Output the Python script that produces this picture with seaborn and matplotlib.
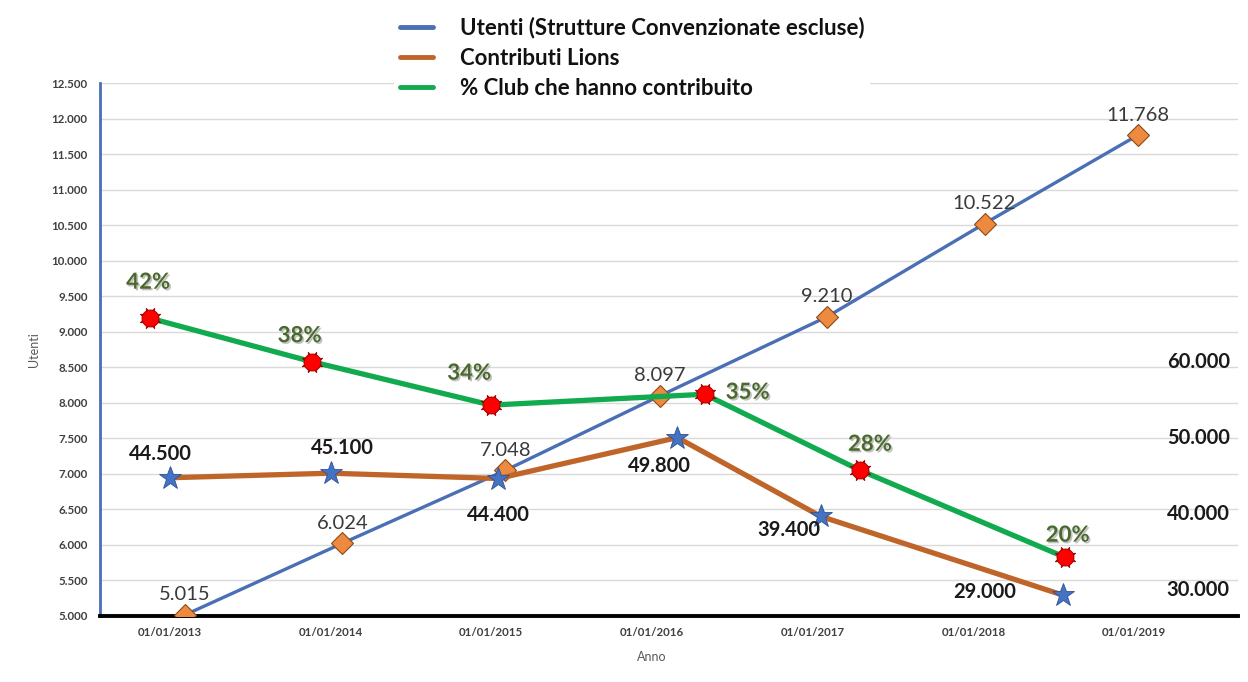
import matplotlib
matplotlib.use("Agg")
import matplotlib.pyplot as plt
import matplotlib.patheffects as pe
import seaborn as sns
import pandas as pd
from matplotlib.lines import Line2D
from matplotlib.ticker import FuncFormatter, MultipleLocator
import matplotlib.dates as mdates

# ---------------- data ----------------
utenti_dates = ["2013-02-04", "2014-01-28", "2015-02-02", "2016-01-19",
                "2017-02-02", "2018-01-26", "2019-01-10"]
utenti = [5015, 6024, 7048, 8097, 9210, 10522, 11768]

contrib_dates = ["2013-01-01", "2014-01-01", "2015-01-17", "2016-02-28",
                 "2017-01-19", "2018-07-24"]
contributi = [44500, 45100, 44400, 49800, 39400, 29000]

club_dates = ["2012-11-17", "2013-11-19", "2015-01-01", "2016-04-30",
              "2017-04-18", "2018-07-27"]
club_pct = [42, 38, 34, 35, 28, 20]

x_ticks = ["2013-01-01", "2014-01-01", "2015-01-01", "2016-01-01",
           "2017-01-01", "2018-01-01", "2019-01-01"]
right_ticks = [30000, 40000, 50000, 60000]

legend_labels = ["Utenti (Strutture Convenzionate escluse)",
                 "Contributi Lions",
                 "% Club che hanno contribuito"]

# ---------------- style ----------------
sns.set_theme(style="white")
plt.rcParams["font.family"] = ["Lato", "DejaVu Sans"]

BLUE = "#4a6fb5"
ORANGE_LINE = "#c0652a"
ORANGE_MK = "#ed8a3f"
GREEN = "#12aa4f"
RED = "#ff0000"
STAR_BLUE = "#4472c4"

def thousands(v, _=None):
    return f"{v:,.0f}".replace(",", ".")

W, H = 1248, 682
fig = plt.figure(figsize=(W / 100, H / 100), dpi=100)
ax = fig.add_axes([100 / W, 1 - 616 / H, 1138 / W, 533 / H])

df_u = pd.DataFrame({"data": pd.to_datetime(utenti_dates), "v": utenti})
df_c = pd.DataFrame({"data": pd.to_datetime(contrib_dates), "v": contributi})
df_g = pd.DataFrame({"data": pd.to_datetime(club_dates), "v": club_pct})

# blue: utenti (left axis)
sns.lineplot(data=df_u, x="data", y="v", ax=ax, color=BLUE, lw=2.4,
             marker="D", markersize=11, markerfacecolor=ORANGE_MK,
             markeredgecolor="#8a4a1a", markeredgewidth=0.8, zorder=3)

# orange: contributi (secondary)
ax2 = ax.twinx()
sns.lineplot(data=df_c, x="data", y="v", ax=ax2, color=ORANGE_LINE, lw=3.8,
             marker="*", markersize=17, markerfacecolor=STAR_BLUE,
             markeredgecolor="#2f528f", markeredgewidth=0.6, zorder=3)

# green: % club (hidden third scale)
ax3 = ax.twinx()
sns.lineplot(data=df_g, x="data", y="v", ax=ax3, color=GREEN, lw=3.8,
             marker=(8, 1, 22.5), markersize=16, markerfacecolor=RED,
             markeredgecolor="#9b0000", markeredgewidth=0.6, zorder=3)
sns.scatterplot(data=df_g, x="data", y="v", ax=ax3, color=RED, s=150,
                marker="o", edgecolor="#9b0000", linewidth=0.6, zorder=4)

# ---------------- axes ----------------
ax.set_xlim(pd.Timestamp("2012-07-26"), pd.Timestamp("2019-08-25"))
ax.set_ylim(5000, 12500)
ax.yaxis.set_major_locator(MultipleLocator(500))
ax.yaxis.set_major_formatter(FuncFormatter(thousands))
ax.set_xticks(pd.to_datetime(x_ticks))
ax.xaxis.set_major_formatter(mdates.DateFormatter("%d/%m/%Y"))
ax.grid(axis="y", color="#d9d9d9", lw=1)
ax.set_axisbelow(True)
ax.tick_params(axis="both", length=0, labelsize=8.3, labelcolor="#404040")
ax.tick_params(axis="y", pad=9)
ax.tick_params(axis="x", pad=8)
for lab in ax.get_xticklabels() + ax.get_yticklabels():
    lab.set_fontweight("bold")
ax.set_ylabel("Utenti", fontsize=9, color="#595959", labelpad=8)
ax.set_xlabel("Anno", fontsize=9, color="#595959", labelpad=10)
ax.xaxis.set_label_coords((652 - 100) / 1138, -0.065)
for s in ["top", "right"]:
    ax.spines[s].set_visible(False)
ax.spines["left"].set_color(BLUE)
ax.spines["left"].set_linewidth(2)
ax.spines["bottom"].set_color("black")
ax.spines["bottom"].set_linewidth(2.8)

ax2.set_ylim(26260, 96580)
ax2.set_yticks(right_ticks)
ax2.yaxis.set_major_formatter(FuncFormatter(thousands))
ax2.tick_params(axis="y", length=0, pad=-6, labelsize=14.5, labelcolor="#1a1a1a")
plt.setp(ax2.get_yticklabels(), ha="right", fontweight="bold")
ax2.set_ylabel("")
ax2.set_xlabel("")
for s in ax2.spines.values():
    s.set_visible(False)

ax3.set_ylim(14.58, 63.66)
ax3.set_yticks([])
ax3.set_ylabel("")
ax3.set_xlabel("")
for s in ax3.spines.values():
    s.set_visible(False)

# ---------------- data labels ----------------
PX = 0.72  # points per pixel
for d, v in zip(df_u["data"], df_u["v"]):
    ax.annotate(thousands(v), (d, v), xytext=(0, 20 * PX), textcoords="offset points",
                ha="center", va="center", fontsize=14.5, color="#3a3a3a", zorder=6)

orange_off = [(-10, -24), (12, -25), (0, 36), (-18, 28), (-32, 14), (-79, -3)]
for (d, v), (dx, dy) in zip(zip(df_c["data"], df_c["v"]), orange_off):
    ax2.annotate(thousands(v), (d, v), xytext=(dx * PX, -dy * PX), textcoords="offset points",
                 ha="center", va="center", fontsize=14.5, fontweight="bold", color="#1a1a1a")

green_off = [(-2, -36), (-12, -26), (-22, -32), (43, -2), (10, -26), (3, -22)]
shadow = [pe.withSimplePatchShadow(offset=(1.2, -1.2), shadow_rgbFace="#9a9a9a", alpha=0.6)]
for (d, v), (dx, dy) in zip(zip(df_g["data"], df_g["v"]), green_off):
    ax3.annotate(f"{v}%", (d, v), xytext=(dx * PX, -dy * PX), textcoords="offset points",
                 ha="center", va="center", fontsize=16, fontweight="bold", color="#4a6a2c",
                 path_effects=shadow)

# ---------------- legend ----------------
handles = [Line2D([], [], color=BLUE, lw=3.5),
           Line2D([], [], color=ORANGE_LINE, lw=3.5),
           Line2D([], [], color=GREEN, lw=3.5)]
leg = fig.legend(handles, legend_labels, loc="upper left",
                 bbox_to_anchor=(383 / W, 1 - 0 / H), frameon=True,
                 facecolor="white", edgecolor="none", framealpha=1,
                 prop={"size": 16, "weight": "bold"}, handlelength=1.5,
                 handletextpad=1.2, labelspacing=0.42, borderpad=0.25)
for t in leg.get_texts():
    t.set_color("#111111")

fig.savefig("out.png", dpi=100, facecolor="white")
